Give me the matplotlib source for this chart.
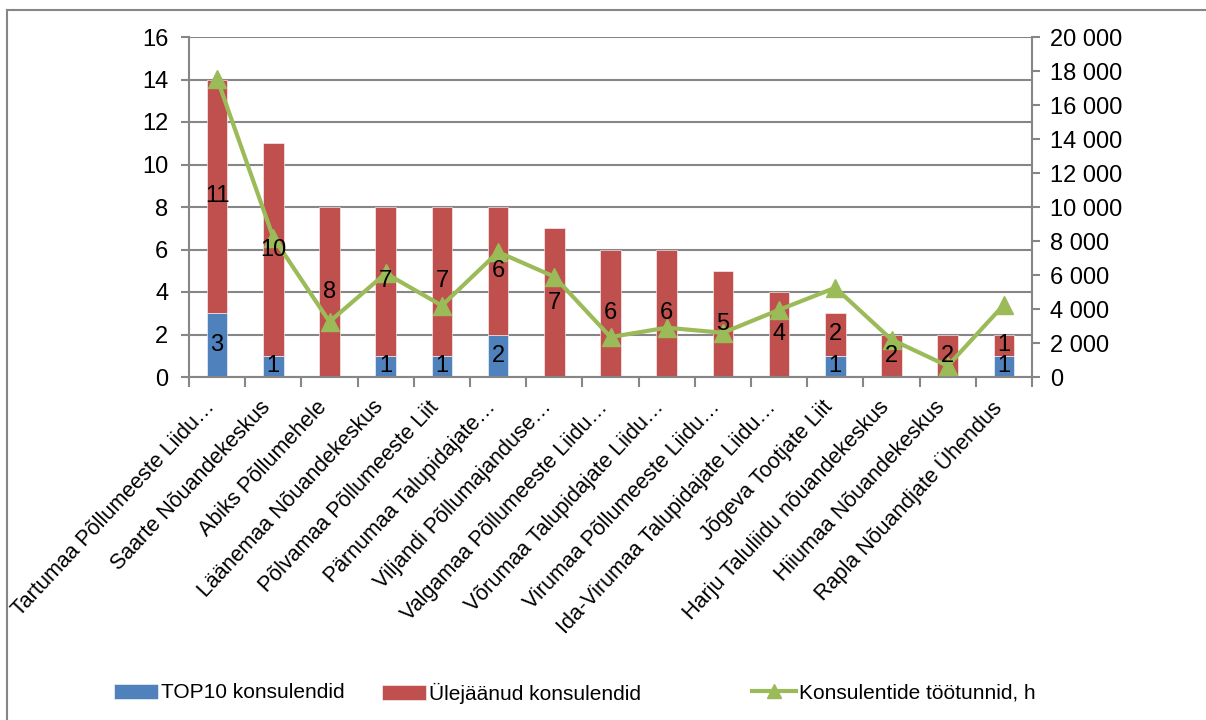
import matplotlib
matplotlib.use('Agg')
import matplotlib.pyplot as plt
import numpy as np
from matplotlib.lines import Line2D
from matplotlib.ticker import FuncFormatter, FixedLocator
import matplotlib.transforms as mtransforms

plt.rcParams['font.family'] = ['Liberation Sans', 'DejaVu Sans']

# data
categories = ['Tartumaa Põllumeeste Liidu…', 'Saarte Nõuandekeskus', 'Abiks Põllumehele',
              'Läänemaa Nõuandekeskus', 'Põlvamaa Põllumeeste Liit', 'Pärnumaa Talupidajate…',
              'Viljandi Põllumajanduse…', 'Valgamaa Põllumeeste Liidu…', 'Võrumaa Talupidajate Liidu…',
              'Virumaa Põllumeeste Liidu…', 'Ida-Virumaa Talupidajate Liidu…', 'Jõgeva Tootjate Liit',
              'Harju Taluliidu nõuandekeskus', 'Hiiumaa Nõuandekeskus', 'Rapla Nõuandjate Ühendus']
top10 = [3, 1, 0, 1, 1, 2, 0, 0, 0, 0, 0, 1, 0, 0, 1]
others = [11, 10, 8, 7, 7, 6, 7, 6, 6, 5, 4, 2, 2, 2, 1]
hours = [17550, 8200, 3250, 6100, 4200, 7350, 5900, 2350, 2900, 2600, 3950, 5250, 2200, 650, 4250]

blue = '#4F81BD'
red = '#C0504D'
green = '#9BBB59'
grey = '#868686'

fig = plt.figure(figsize=(12.06, 7.2), dpi=100)
ax = fig.add_axes([189/1206, 1-377/720, (1032-189)/1206, 340/720])
ax2 = ax.twinx()

x = np.arange(len(categories))
b1 = ax.bar(x, top10, width=0.37, color=blue, edgecolor='white', linewidth=0.4, label='TOP10 konsulendid')
b2 = ax.bar(x, others, width=0.37, bottom=top10, color=red, edgecolor='white', linewidth=0.4, label='Ülejäänud konsulendid')
ln, = ax2.plot(x, hours, color=green, linewidth=3.0, marker='^', markersize=13, label='Konsulentide töötunnid, h')

# bar labels on top of the line
for cont, vals in [(b1, top10), (b2, others)]:
    for p, v in zip(cont.patches, vals):
        if v == 0:
            continue
        ax2.text(p.get_x() + p.get_width()/2, p.get_y() + p.get_height()/2, str(v),
                 transform=ax.transData, ha='center', va='center', fontsize=17, zorder=5)

ax.set_xlim(-0.5, len(categories)-0.5)
ax.set_ylim(0, 16)
ax.set_yticks(np.arange(0, 17, 2))
ax2.set_ylim(0, 20000)
ax2.set_yticks(np.arange(0, 20001, 2000))
ax2.yaxis.set_major_formatter(FuncFormatter(lambda v, p: '{:,.0f}'.format(v).replace(',', ' ')))

ax.grid(axis='y', color=grey, linewidth=1.5)
ax.set_axisbelow(True)
for a in (ax, ax2):
    for s in a.spines.values():
        s.set_visible(False)
for s in (ax.spines['left'], ax.spines['bottom'], ax2.spines['right']):
    s.set_visible(True)
    s.set_color(grey)
    s.set_linewidth(1.5)

ax.tick_params(axis='y', labelsize=17, length=6, width=1.5, color=grey, pad=9)
ax2.tick_params(axis='y', labelsize=17, length=6, width=1.5, color=grey, pad=7)

ax.set_xticks(x)
ax.xaxis.set_minor_locator(FixedLocator(np.arange(-0.5, len(categories), 1)))
ax.tick_params(axis='x', which='major', length=0, labelsize=15.5)
ax.tick_params(axis='x', which='minor', length=7, width=1.5, color=grey)
offset = mtransforms.ScaledTranslation(-6/100, -22/100, fig.dpi_scale_trans)
ax.set_xticklabels(categories, rotation=47, ha='right', va='center', rotation_mode='anchor')
for t in ax.get_xticklabels():
    t.set_transform(t.get_transform() + offset)

# legend entries placed like in the original
for h, lx in [(b1, 116), (b2, 384), (ln, 754)]:
    fig.legend([h], [h.get_label()], loc='center left', bbox_to_anchor=(lx/1206 - 0.017, 1-693/720),
               frameon=False, fontsize=15, handlelength=2.1, handletextpad=0.15, markerscale=0.8)

# outer chart frame
fig.add_artist(Line2D([7/1206, 7/1206], [0, 1-10/720], color=grey, linewidth=1.5))
fig.add_artist(Line2D([7/1206, 1], [1-10/720, 1-10/720], color=grey, linewidth=1.5))

plt.savefig('out.png', dpi=100)
